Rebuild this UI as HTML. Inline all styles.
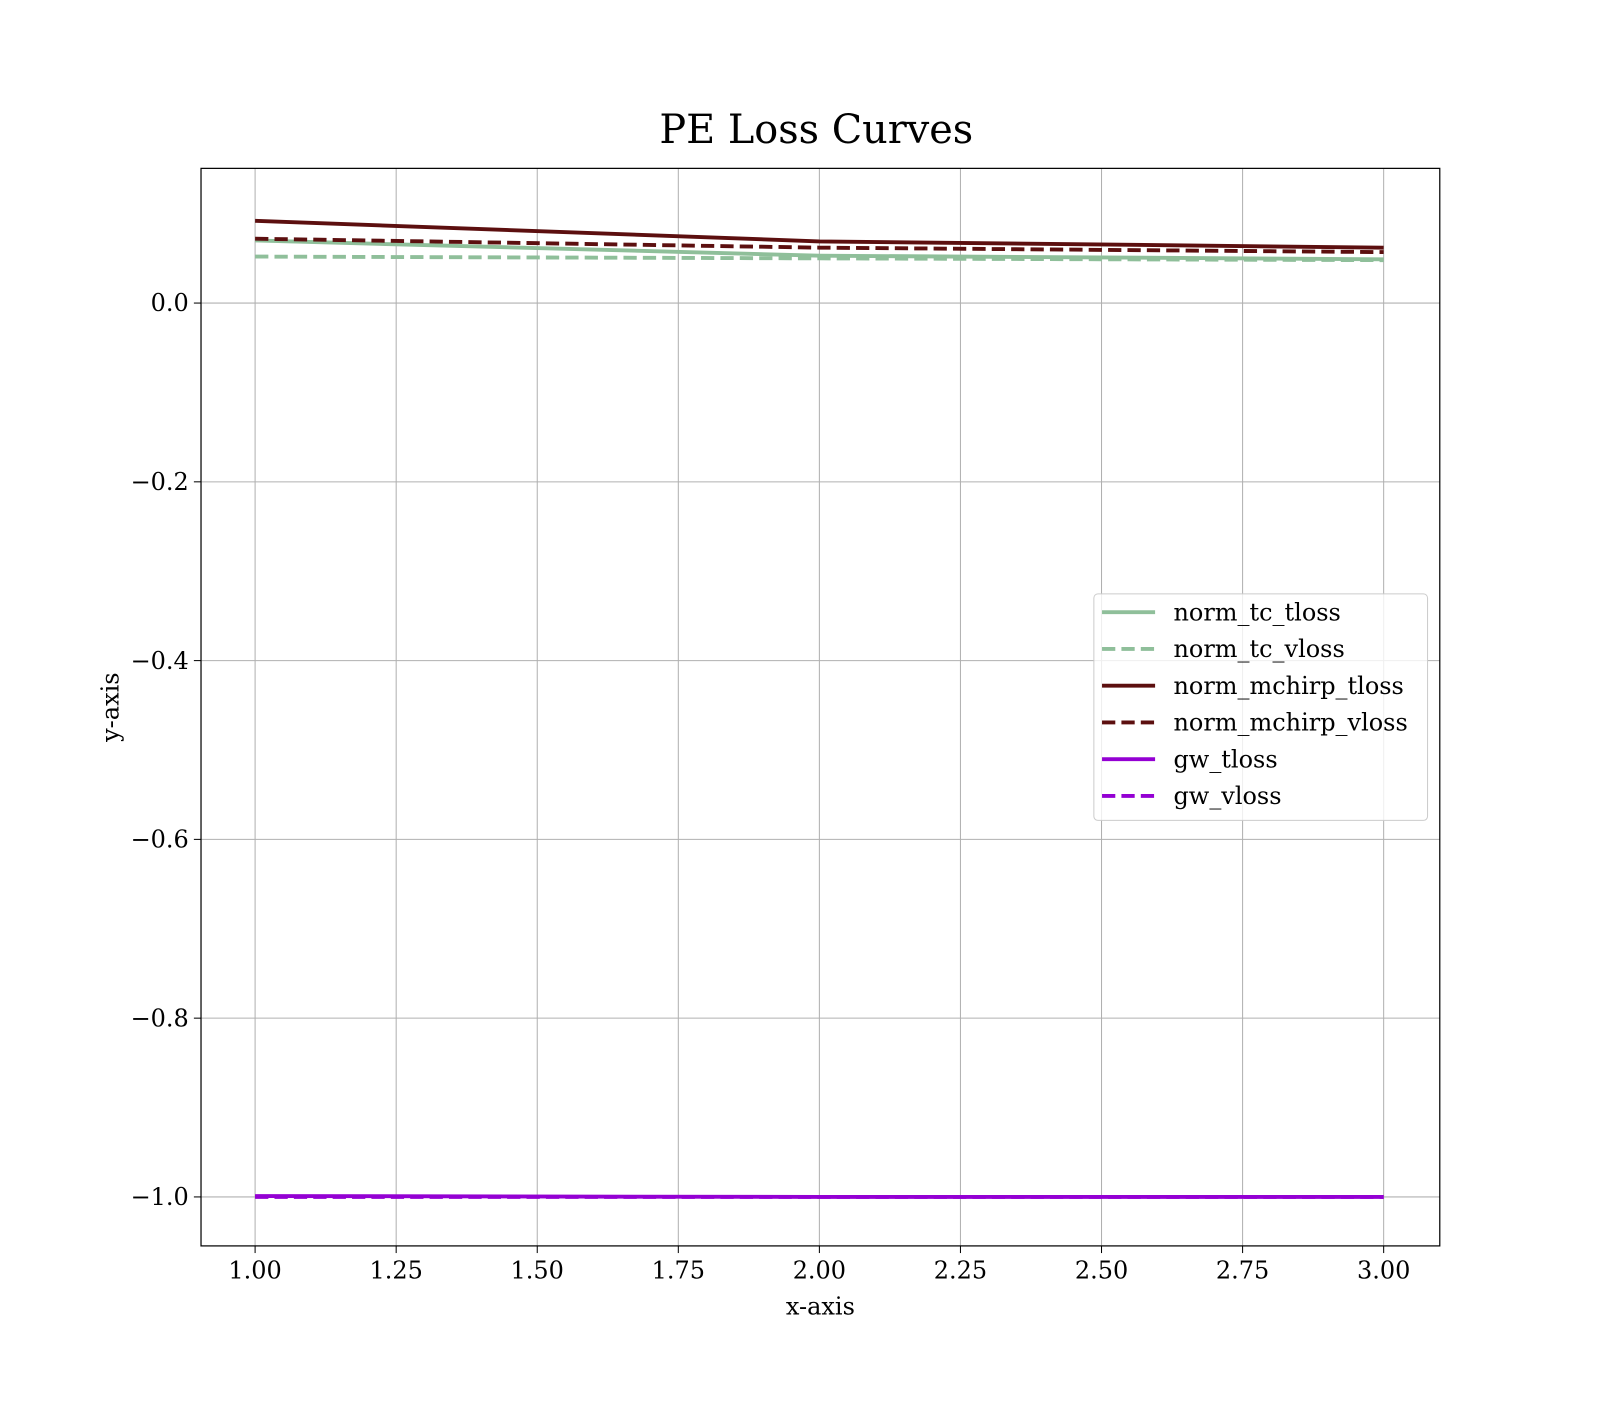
<!DOCTYPE html>
<html><head><meta charset="utf-8"><style>
body{margin:0;background:#fff;}
svg text{font-family:"DejaVu Serif","Liberation Serif",serif;}
</style></head><body>
<svg id="chart" width="1600" height="1400" xmlns="http://www.w3.org/2000/svg">
<rect width="1600" height="1400" fill="#fff"/>
<g transform="scale(1.0204)">
<text x="800" y="140" font-size="39" text-anchor="middle">PE Loss Curves</text>
<g id="grid"></g>
<g id="ticks"></g>
<g id="series"></g>
<rect x="197" y="165" width="1214" height="1056" fill="none" stroke="#000" stroke-width="1.2"/>
<text x="804" y="1288" font-size="23.5" text-anchor="middle">x-axis</text>
<text x="116" y="693" font-size="23.5" text-anchor="middle" transform="rotate(-90 116 693)">y-axis</text>
<g id="legend"></g>
</g>
</svg>
<script>
const xValues=[1,2,3];
const xTicks=[1.00,1.25,1.50,1.75,2.00,2.25,2.50,2.75,3.00];
const yTicks=[0.0,-0.2,-0.4,-0.6,-0.8,-1.0];
const seriesNames=["norm_tc_tloss","norm_tc_vloss","norm_mchirp_tloss","norm_mchirp_vloss","gw_tloss","gw_vloss"];
const normTcTloss=[0.070,0.053,0.049];
const normTcVloss=[0.052,0.050,0.048];
const normMchirpTloss=[0.092,0.069,0.062];
const normMchirpVloss=[0.072,0.062,0.057];
const gwTloss=[-0.999,-1.0,-1.0];
const gwVloss=[-1.0,-1.0,-1.0];
const seriesData=[normTcTloss,normTcVloss,normMchirpTloss,normMchirpVloss,gwTloss,gwVloss];
const colors=["#8fbf9a","#8fbf9a","#5c0f0f","#5c0f0f","#9400d3","#9400d3"];
const dashed=[false,true,false,true,false,true];
const NS="http://www.w3.org/2000/svg";
const X=v=>250+(v-1)*553;
const Y=v=>297-v*876;
function mk(t,a,p){const e=document.createElementNS(NS,t);for(const k in a)e.setAttribute(k,a[k]);p.appendChild(e);return e;}
const grid=document.getElementById('grid'),ticks=document.getElementById('ticks');
xTicks.forEach(t=>{
 const l=mk('line',{x1:X(t),x2:X(t),y1:165,y2:1221,stroke:'#b0b0b0','stroke-width':1},grid);
 
 
 mk('line',{x1:X(t),x2:X(t),y1:1221,y2:1228,stroke:'#000'},ticks);
 const tx=mk('text',{x:X(t),y:1253,'font-size':23.5,'text-anchor':'middle'},ticks);
 tx.textContent=t.toFixed(2);
 
 
});
yTicks.forEach(t=>{
 const l=mk('line',{x1:197,x2:1411,y1:Y(t),y2:Y(t),stroke:'#b0b0b0','stroke-width':1},grid);
 
 
 mk('line',{x1:190,x2:197,y1:Y(t),y2:Y(t),stroke:'#000'},ticks);
 const tx=mk('text',{x:185,y:Y(t)+8,'font-size':23.5,'text-anchor':'end'},ticks);
 tx.textContent=(t<0?'\u2212':'')+Math.abs(t).toFixed(1);
 
 
});
const ser=document.getElementById('series');
seriesData.forEach((d,i)=>{
 const p=mk('polyline',{points:d.map((v,j)=>X(xValues[j])+','+Y(v)).join(' '),fill:'none',stroke:colors[i],'stroke-width':3.8,'stroke-dasharray':dashed[i]?'13,6':'none'},ser);
 
 
});
const lg=document.getElementById('legend');
const box=mk('rect',{x:1072,y:582,width:327,height:222,rx:4,fill:'#fff','fill-opacity':0.8,stroke:'#ccc'},lg);


seriesNames.forEach((n,i)=>{
 const y=600+i*36;
 const g=mk('g',{},lg);
 
 
 mk('line',{x1:1080,x2:1132,y1:y,y2:y,stroke:colors[i],'stroke-width':3.8,'stroke-dasharray':dashed[i]?'13,6':'none'},g);
 const t=mk('text',{x:1150,y:y+8,'font-size':23.5},g);
 t.textContent=n;
});
</script>
</body></html>
